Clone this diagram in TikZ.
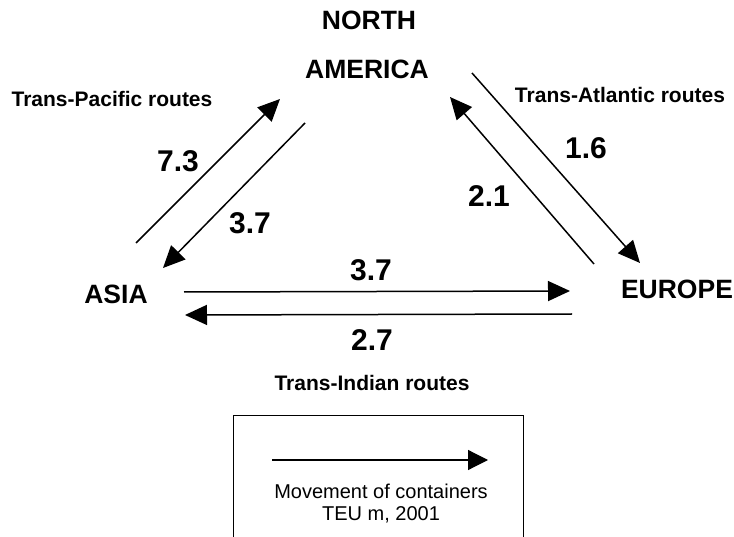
\documentclass[tikz,border=0pt]{standalone}
\usepackage{fontspec}
\setmainfont{Liberation Sans}
\usetikzlibrary{arrows.meta}
\begin{document}
\begin{tikzpicture}[x=1pt,y=-1pt,
  region/.style={font=\bfseries\fontsize{26.5}{30}\selectfont, inner sep=0pt},
  volume/.style={font=\bfseries\fontsize{30}{34}\selectfont, inner sep=0pt},
  route/.style={font=\bfseries\fontsize{21}{24}\selectfont, inner sep=0pt},
  legendtext/.style={font=\fontsize{20}{23}\selectfont, inner sep=0pt},
  flow/.style={line width=1.5pt, -{Triangle[length=22pt,width=20pt]}},
  keyflow/.style={line width=1.2pt, -{Triangle[length=20pt,width=20pt]}}]
\useasboundingbox (0,0) rectangle (734,537);

% regions
\node[region] (na1) at (369,20) {NORTH};
\node[region] (na2) at (367,69) {AMERICA};
\node[region] (asia) at (116,294) {ASIA};
\node[region] (europe) at (677,289) {EUROPE};

% route labels
\node[route] (pacific) at (112,99) {Trans-Pacific routes};
\node[route] (atlantic) at (620,95) {Trans-Atlantic routes};
\node[route] (indian) at (372,383) {Trans-Indian routes};

% arrow end points
\coordinate (pacUpS) at (136,243);   \coordinate (pacUpE) at (280,99);
\coordinate (pacDnS) at (305,123);   \coordinate (pacDnE) at (163,268);
\coordinate (atlDnS) at (472,73);    \coordinate (atlDnE) at (640,263);
\coordinate (atlUpS) at (594,264);   \coordinate (atlUpE) at (450,97);
\coordinate (indEaS) at (184,292);   \coordinate (indEaE) at (570,291);
\coordinate (indWeS) at (572,314);   \coordinate (indWeE) at (185,315);

% flows
\draw[flow] (pacUpS) -- (pacUpE);
\draw[flow] (pacDnS) -- (pacDnE);
\draw[flow] (atlDnS) -- (atlDnE);
\draw[flow] (atlUpS) -- (atlUpE);
\draw[flow] (indEaS) -- (indEaE);
\draw[flow] (indWeS) -- (indWeE);

% volumes
\node[volume] (v73) at (178,161) {7.3};
\node[volume] (v37a) at (250,223) {3.7};
\node[volume] (v16) at (586,148) {1.6};
\node[volume] (v21) at (489,196) {2.1};
\node[volume] (v37b) at (371,270) {3.7};
\node[volume] (v27) at (372,340) {2.7};

% key
\draw[line width=1pt] (233,548) -- (233,415) -- (523,415) -- (523,548);
\coordinate (keyS) at (272,460);
\coordinate (keyE) at (488,460);
\draw[keyflow] (keyS) -- (keyE);
\node[legendtext] (key1) at (381,491) {Movement of containers};
\node[legendtext] (key2) at (381,515) {TEU m, 2001};
\end{tikzpicture}
\end{document}
